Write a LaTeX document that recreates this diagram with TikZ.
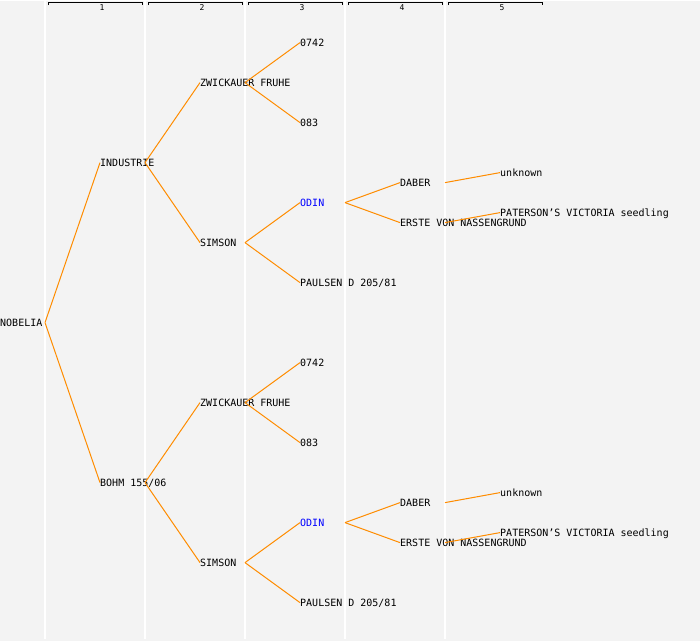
\documentclass[tikz,border=0pt]{standalone}
\usepackage{fontspec}
\setmonofont{DejaVu Sans Mono}
\usetikzlibrary{calc}
\definecolor{bg}{HTML}{F3F3F3}
\definecolor{ln}{HTML}{FF8C00}
\tikzset{lk/.style={draw=ln, line width=1pt},
  nm/.style={anchor=west, inner sep=0pt, text height=7.3pt, text depth=0pt, font=\ttfamily\fontsize{10}{10}\selectfont},
  rule/.style={draw=white, line width=1.2pt},
  hd/.style={inner sep=0pt, font=\ttfamily\fontsize{8}{8}\selectfont}}

\begin{document}
\begin{tikzpicture}[x=1pt,y=-1pt]
  \fill[bg] (0,0) rectangle (700,640);
  % column rules and generation headers
  \foreach \i in {1,...,5}{
    \draw[rule] (\i*100-55,0) -- (\i*100-55,638);
    \draw[line width=1pt] (\i*100-52,4.5) -- ++(0,-3) -- ++(94,0) -- ++(0,3);
    \node[hd] (h\i) at (\i*100+2,6.8) {\i};}
  % root and parents
  \node[nm] (nob) at (0,322) {NOBELIA};
  \node[nm] (ind) at (100,162) {INDUSTRIE};
  \node[nm] (boh) at (100,482) {BOHM 155/06};
  \draw[lk] ($(nob.west)+(45,0)$) -- (ind.west);
  \draw[lk] ($(nob.west)+(45,0)$) -- (boh.west);
  % the same branch twice
  \foreach \h/\p/\dy in {a/ind/0,b/boh/320}{
    \node[nm] (zw\h) at (200,82+\dy) {ZWICKAUER FRUHE};
    \node[nm] (si\h) at (200,242+\dy) {SIMSON};
    \node[nm] (za\h) at (300,42+\dy) {0742};
    \node[nm] (zb\h) at (300,122+\dy) {083};
    \node[nm, text=blue] (od\h) at (300,202+\dy) {ODIN};
    \node[nm] (pa\h) at (300,282+\dy) {PAULSEN D 205/81};
    \node[nm] (da\h) at (400,182+\dy) {DABER};
    \node[nm] (er\h) at (400,222+\dy) {ERSTE VON NASSENGRUND};
    \node[nm] (un\h) at (500,172+\dy) {unknown};
    \node[nm] (pt\h) at (500,212+\dy) {PATERSON’S VICTORIA seedling};
    \draw[lk] ($(\p.west)+(45,0)$) -- (zw\h.west);
    \draw[lk] ($(\p.west)+(45,0)$) -- (si\h.west);
    \draw[lk] ($(zw\h.west)+(45,0)$) -- (za\h.west);
    \draw[lk] ($(zw\h.west)+(45,0)$) -- (zb\h.west);
    \draw[lk] ($(si\h.west)+(45,0)$) -- (od\h.west);
    \draw[lk] ($(si\h.west)+(45,0)$) -- (pa\h.west);
    \draw[lk] ($(od\h.west)+(45,0)$) -- (da\h.west);
    \draw[lk] ($(od\h.west)+(45,0)$) -- (er\h.west);
    \draw[lk] ($(da\h.west)+(45,0)$) -- (un\h.west);
    \draw[lk] ($(er\h.west)+(45,0)$) -- (pt\h.west);}
\end{tikzpicture}
\end{document}
